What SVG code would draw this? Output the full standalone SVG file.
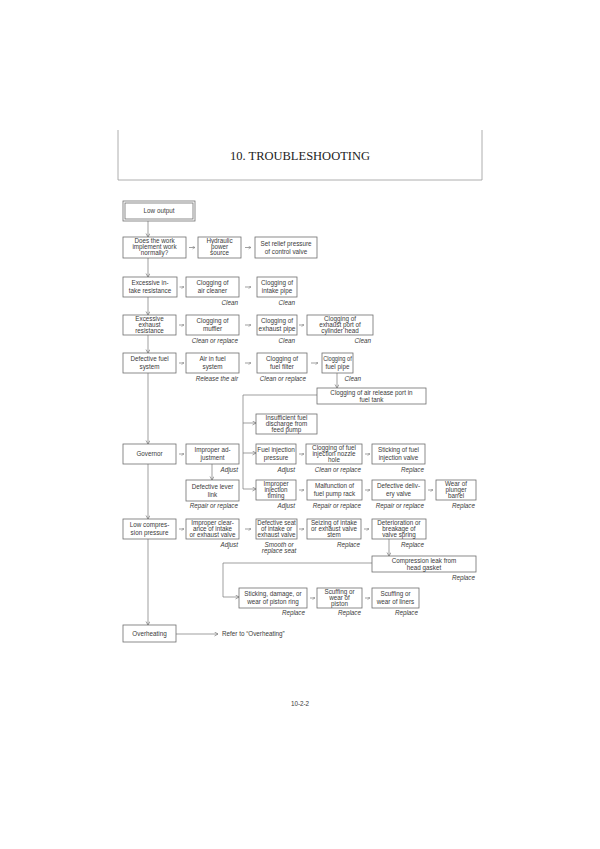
<svg xmlns="http://www.w3.org/2000/svg" width="600" height="849" viewBox="0 0 600 849">
<defs>
<style>
.b{fill:#fff;stroke:#6e6e6e;stroke-width:0.8}
.t{font-family:"Liberation Sans",Arial,sans-serif;font-size:6.3px;fill:#3a3a3a;text-anchor:middle}
.i{font-family:"Liberation Sans",Arial,sans-serif;font-size:6.3px;fill:#3a3a3a;font-style:italic;text-anchor:end}
.c{fill:none;stroke:#777;stroke-width:0.7}
.title{font-family:"Liberation Serif","Times New Roman",serif;font-size:12.5px;fill:#222;text-anchor:middle}
</style>
<marker id="ah" markerWidth="5" markerHeight="5" refX="4" refY="2" orient="auto" markerUnits="userSpaceOnUse">
<path d="M0.5,0 L4,2 L0.5,4" fill="none" stroke="#777" stroke-width="0.7"/>
</marker>
<marker id="sa" markerWidth="4" markerHeight="4" refX="3" refY="1.5" orient="auto" markerUnits="userSpaceOnUse">
<path d="M0.5,0 L3,1.5 L0.5,3" fill="none" stroke="#888" stroke-width="0.6"/>
</marker>
</defs>
<rect width="600" height="849" fill="#fff"/>
<g id="header">
<path d="M118,130 V180 H482 V130" fill="none" stroke="#999" stroke-width="0.8"/>
<text class="title" x="300" y="160">10. TROUBLESHOOTING</text>
</g>
<g id="connectors">
<path class="c" d="M148,221 V237" marker-end="url(#ah)"/>
<path class="c" d="M148,258 V277" marker-end="url(#ah)"/>
<path class="c" d="M148,297 V315" marker-end="url(#ah)"/>
<path class="c" d="M148,335 V353" marker-end="url(#ah)"/>
<path class="c" d="M148,373 V444" marker-end="url(#ah)"/>
<path class="c" d="M148,464 V519" marker-end="url(#ah)"/>
<path class="c" d="M148,539 V625" marker-end="url(#ah)"/>
<path class="c" d="M189,247.5 H195" marker-end="url(#sa)"/>
<path class="c" d="M245,247.5 H251" marker-end="url(#sa)"/>
<path class="c" d="M179.5,287 H184" marker-end="url(#sa)"/>
<path class="c" d="M245,287 H251" marker-end="url(#sa)"/>
<path class="c" d="M179,325 H184" marker-end="url(#sa)"/>
<path class="c" d="M245,325 H251" marker-end="url(#sa)"/>
<path class="c" d="M299,325 H304" marker-end="url(#sa)"/>
<path class="c" d="M179,363 H184" marker-end="url(#sa)"/>
<path class="c" d="M245,363 H251" marker-end="url(#sa)"/>
<path class="c" d="M311,363 H318" marker-end="url(#sa)"/>
<path class="c" d="M337,373 V388" marker-end="url(#ah)"/>
<path class="c" d="M317,395 H243 V489"/>
<path class="c" d="M243,423 H256" marker-end="url(#ah)"/>
<path class="c" d="M243,453 H256" marker-end="url(#ah)"/>
<path class="c" d="M243,489 H256" marker-end="url(#ah)"/>
<path class="c" d="M179,454 H184" marker-end="url(#sa)"/>
<path class="c" d="M212,464 V480" marker-end="url(#ah)"/>
<path class="c" d="M299,454 H304" marker-end="url(#sa)"/>
<path class="c" d="M365,454 H370" marker-end="url(#sa)"/>
<path class="c" d="M299,490 H304" marker-end="url(#sa)"/>
<path class="c" d="M365,490 H370" marker-end="url(#sa)"/>
<path class="c" d="M428,490 H433" marker-end="url(#sa)"/>
<path class="c" d="M179,529 H184" marker-end="url(#sa)"/>
<path class="c" d="M245,529 H251" marker-end="url(#sa)"/>
<path class="c" d="M299,529 H304" marker-end="url(#sa)"/>
<path class="c" d="M364,529 H369" marker-end="url(#sa)"/>
<path class="c" d="M389,539 V556" marker-end="url(#ah)"/>
<path class="c" d="M372,563 H223 V597 H239" marker-end="url(#ah)"/>
<path class="c" d="M310,598 H315" marker-end="url(#sa)"/>
<path class="c" d="M365,598 H370" marker-end="url(#sa)"/>
<path class="c" d="M176,634 H218" marker-end="url(#ah)"/>
</g>
<g id="n_low"><rect class="b" x="123" y="201" width="72" height="20"/><rect class="b" x="125" y="203" width="68" height="16"/><text class="t" x="159" y="213.2">Low output</text></g>
<g id="n_does"><rect class="b" x="123" y="237" width="63" height="21"/><text class="t" x="154.5" y="243.2">Does the work</text><text class="t" x="154.5" y="249">implement work</text><text class="t" x="154.5" y="254.8">normally?</text></g>
<g id="n_hydraulic"><rect class="b" x="198" y="237" width="43" height="21"/><text class="t" x="219.5" y="243.2">Hydraulic</text><text class="t" x="219.5" y="249">power</text><text class="t" x="219.5" y="254.8">source</text></g>
<g id="n_relief"><rect class="b" x="255" y="237" width="62" height="21"/><text class="t" x="286" y="245.5">Set relief pressure</text><text class="t" x="286" y="253.5">of control valve</text></g>
<g id="n_intake"><rect class="b" x="123" y="277" width="54" height="20"/><text class="t" x="150" y="285.2">Excessive in-</text><text class="t" x="150" y="293.2">take resistance</text></g>
<g id="n_aircleaner"><rect class="b" x="186" y="277" width="53" height="20"/><text class="t" x="212.5" y="285.2">Clogging of</text><text class="t" x="212.5" y="293.2">air cleaner</text><text class="i" x="238" y="304.5">Clean</text></g>
<g id="n_intakepipe"><rect class="b" x="257" y="277" width="40" height="20"/><text class="t" x="277" y="285.2">Clogging of</text><text class="t" x="277" y="293.2">intake pipe</text><text class="i" x="295" y="304.5">Clean</text></g>
<g id="n_exhaust"><rect class="b" x="123" y="315" width="53" height="20"/><text class="t" x="149.5" y="321.2">Excessive</text><text class="t" x="149.5" y="327.2">exhaust</text><text class="t" x="149.5" y="333.2">resistance</text></g>
<g id="n_muffler"><rect class="b" x="186" y="315" width="53" height="20"/><text class="t" x="212.5" y="323.2">Clogging of</text><text class="t" x="212.5" y="331.2">muffler</text><text class="i" x="238" y="343">Clean or replace</text></g>
<g id="n_exhpipe"><rect class="b" x="257" y="315" width="40" height="20"/><text class="t" x="277" y="323.2">Clogging of</text><text class="t" x="277" y="331.2" textLength="37" lengthAdjust="spacingAndGlyphs">exhaust pipe</text><text class="i" x="295" y="343">Clean</text></g>
<g id="n_exhport"><rect class="b" x="307" y="315" width="66" height="20"/><text class="t" x="340" y="321.2">Clogging of</text><text class="t" x="340" y="327.2">exhaust port of</text><text class="t" x="340" y="333.2">cylinder head</text><text class="i" x="371" y="343">Clean</text></g>
<g id="n_fuel"><rect class="b" x="123" y="353" width="53" height="20"/><text class="t" x="149.5" y="361.2">Defective fuel</text><text class="t" x="149.5" y="369.2">system</text></g>
<g id="n_air"><rect class="b" x="186" y="353" width="53" height="20"/><text class="t" x="212.5" y="361.2">Air in fuel</text><text class="t" x="212.5" y="369.2">system</text><text class="i" x="238" y="381">Release the air</text></g>
<g id="n_filter"><rect class="b" x="257" y="353" width="50" height="20"/><text class="t" x="282" y="361.2">Clogging of</text><text class="t" x="282" y="369.2">fuel filter</text><text class="i" x="306" y="381">Clean or replace</text></g>
<g id="n_fuelpipe"><rect class="b" x="322" y="353" width="31" height="20"/><text class="t" x="337.5" y="361.2" textLength="28.5" lengthAdjust="spacingAndGlyphs">Clogging of</text><text class="t" x="337.5" y="369.2">fuel pipe</text><text class="i" x="361" y="381">Clean</text></g>
<g id="n_tank"><rect class="b" x="317" y="388" width="109" height="16"/><text class="t" x="371.5" y="394.5">Clogging of air release port in</text><text class="t" x="371.5" y="401.5">fuel tank</text></g>
<g id="n_feed"><rect class="b" x="256" y="414" width="61" height="20"/><text class="t" x="286.5" y="420.2">Insufficient fuel</text><text class="t" x="286.5" y="426.2">discharge from</text><text class="t" x="286.5" y="432.2">feed pump</text></g>
<g id="n_governor"><rect class="b" x="123" y="444" width="53" height="20"/><text class="t" x="149.5" y="456.2">Governor</text></g>
<g id="n_adjust"><rect class="b" x="186" y="444" width="53" height="20"/><text class="t" x="212.5" y="452.2">Improper ad-</text><text class="t" x="212.5" y="460.2">justment</text><text class="i" x="238" y="471.5">Adjust</text></g>
<g id="n_injpress"><rect class="b" x="256" y="444" width="40" height="20"/><text class="t" x="276" y="452.2" textLength="37.5" lengthAdjust="spacingAndGlyphs">Fuel injection</text><text class="t" x="276" y="460.2">pressure</text><text class="i" x="295" y="471.5">Adjust</text></g>
<g id="n_nozzle"><rect class="b" x="306" y="444" width="56" height="20"/><text class="t" x="334" y="450.2">Clogging of fuel</text><text class="t" x="334" y="456.2">injection nozzle</text><text class="t" x="334" y="462.2">hole</text><text class="i" x="361" y="471.5">Clean or replace</text></g>
<g id="n_sticking"><rect class="b" x="372" y="444" width="53" height="20"/><text class="t" x="398.5" y="452.2">Sticking of fuel</text><text class="t" x="398.5" y="460.2">injection valve</text><text class="i" x="424" y="471.5">Replace</text></g>
<g id="n_lever"><rect class="b" x="186" y="480" width="53" height="21"/><text class="t" x="212.5" y="488.5">Defective lever</text><text class="t" x="212.5" y="496.5">link</text><text class="i" x="238" y="508">Repair or replace</text></g>
<g id="n_timing"><rect class="b" x="256" y="480" width="40" height="20"/><text class="t" x="276" y="486.2">Improper</text><text class="t" x="276" y="492.2">injection</text><text class="t" x="276" y="498.2">timing</text><text class="i" x="295" y="508">Adjust</text></g>
<g id="n_rack"><rect class="b" x="307" y="480" width="55" height="20"/><text class="t" x="334.5" y="488.2">Malfunction of</text><text class="t" x="334.5" y="496.2">fuel pump rack</text><text class="i" x="361" y="508">Repair or replace</text></g>
<g id="n_delivery"><rect class="b" x="372" y="480" width="53" height="20"/><text class="t" x="398.5" y="488.2">Defective deliv-</text><text class="t" x="398.5" y="496.2">ery valve</text><text class="i" x="424" y="508">Repair or replace</text></g>
<g id="n_plunger"><rect class="b" x="436" y="480" width="40" height="20"/><text class="t" x="456" y="486.2">Wear of</text><text class="t" x="456" y="492.2">plunger</text><text class="t" x="456" y="498.2">barrel</text><text class="i" x="475" y="508">Replace</text></g>
<g id="n_compression"><rect class="b" x="123" y="519" width="53" height="20"/><text class="t" x="149.5" y="527.2">Low compres-</text><text class="t" x="149.5" y="535.2">sion pressure</text></g>
<g id="n_clearance"><rect class="b" x="186" y="519" width="53" height="20"/><text class="t" x="212.5" y="525.2">Improper clear-</text><text class="t" x="212.5" y="531.2">ance of intake</text><text class="t" x="212.5" y="537.2">or exhaust valve</text><text class="i" x="238" y="546.5">Adjust</text></g>
<g id="n_seat"><rect class="b" x="256" y="519" width="41" height="20"/><text class="t" x="276.5" y="525.2" textLength="38.5" lengthAdjust="spacingAndGlyphs">Defective seat</text><text class="t" x="276.5" y="531.2">of intake or</text><text class="t" x="276.5" y="537.2" textLength="38" lengthAdjust="spacingAndGlyphs">exhaust valve</text><text class="i" x="279" y="546.5" style="text-anchor:middle">Smooth or</text><text class="i" x="279" y="553" style="text-anchor:middle">replace seat</text></g>
<g id="n_seizing"><rect class="b" x="307" y="519" width="54" height="20"/><text class="t" x="334" y="525.2">Seizing of intake</text><text class="t" x="334" y="531.2">or exhaust valve</text><text class="t" x="334" y="537.2">stem</text><text class="i" x="360" y="546.5">Replace</text></g>
<g id="n_spring"><rect class="b" x="372" y="519" width="54" height="20"/><text class="t" x="399" y="525.2">Deterioration or</text><text class="t" x="399" y="531.2">breakage of</text><text class="t" x="399" y="537.2">valve spring</text><text class="i" x="424" y="546.5">Replace</text></g>
<g id="n_gasket"><rect class="b" x="372" y="556" width="104" height="16"/><text class="t" x="424" y="562.5">Compression leak from</text><text class="t" x="424" y="570">head gasket</text><text class="i" x="475" y="579.5">Replace</text></g>
<g id="n_ring"><rect class="b" x="239" y="588" width="68" height="20"/><text class="t" x="273" y="596.2">Sticking, damage, or</text><text class="t" x="273" y="604.2">wear of piston ring</text><text class="i" x="305" y="615">Replace</text></g>
<g id="n_piston"><rect class="b" x="317" y="588" width="45" height="20"/><text class="t" x="339.5" y="594.2">Scuffing or</text><text class="t" x="339.5" y="600.2">wear of</text><text class="t" x="339.5" y="606.2">piston</text><text class="i" x="361" y="615">Replace</text></g>
<g id="n_liners"><rect class="b" x="372" y="588" width="47" height="20"/><text class="t" x="395.5" y="596.2">Scuffing or</text><text class="t" x="395.5" y="604.2">wear of liners</text><text class="i" x="418" y="615">Replace</text></g>
<g id="n_overheat"><rect class="b" x="123" y="625" width="53" height="17"/><text class="t" x="149.5" y="635.7">Overheating</text></g>
<g id="n_refer"><text class="t" x="222" y="636.2" style="text-anchor:start">Refer to “Overheating”</text></g>
<g id="footer"><text class="t" x="300" y="705.5">10-2-2</text></g>
</svg>
